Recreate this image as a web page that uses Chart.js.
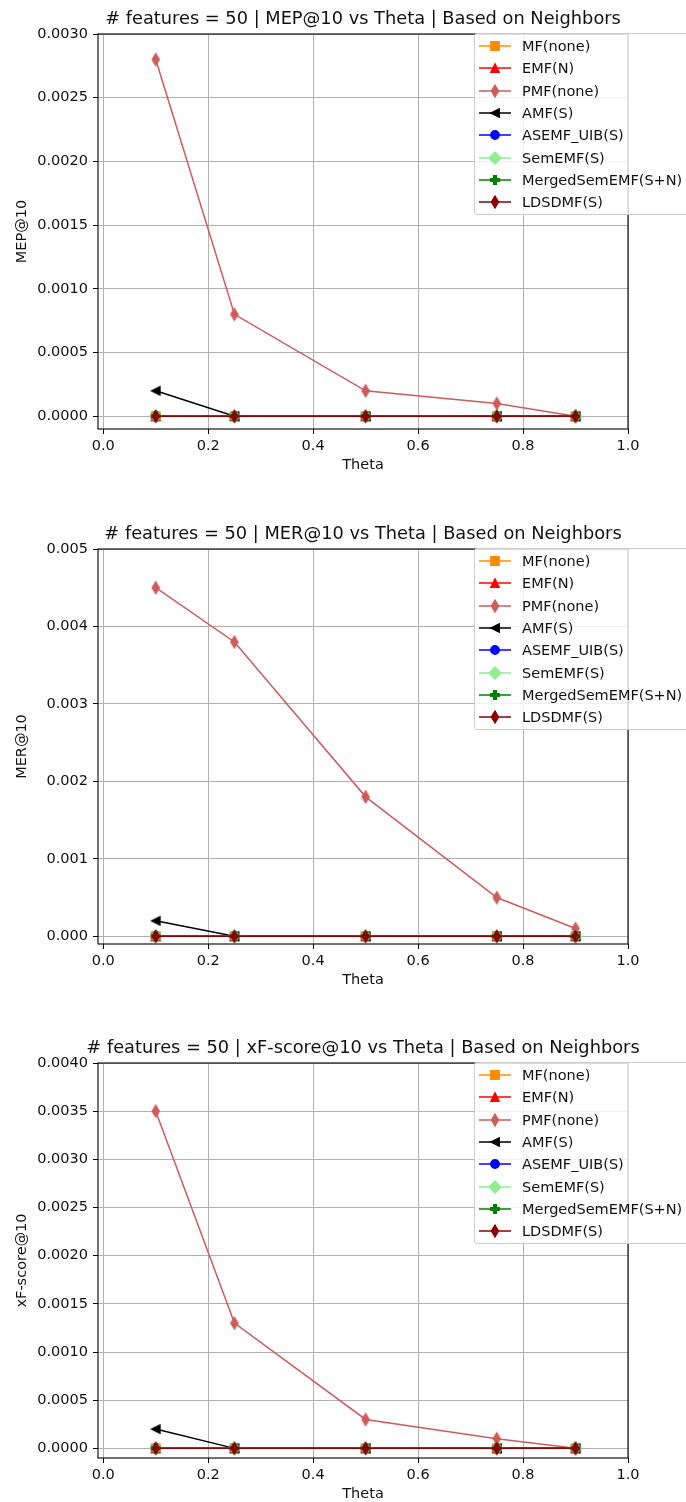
<!DOCTYPE html>
<html>
<head>
<meta charset="utf-8">
<title>Theta sweep - based on neighbors</title>
<script src="https://cdn.jsdelivr.net/npm/chart.js@4.4.1/dist/chart.umd.min.js"></script>
<style>
    body { margin: 0; background: #fff; }
    #page { position: relative; width: 686px; height: 1502px; overflow: hidden; font-family: "DejaVu Sans", sans-serif; }
    canvas.plot { position: absolute; left: 0; }
    .legend { position: absolute; left: 474px; width: 220px; height: 182px; box-sizing: border-box;
              border: 1px solid #cccccc; border-radius: 3px; background: rgba(255, 255, 255, 0.8); }
    .legend-row { position: absolute; left: 0; width: 220px; height: 22px; line-height: 22px;
                  font-size: 14.5px; color: #111; white-space: nowrap; }
    .legend-row canvas { position: absolute; left: 4px; top: 0; }
    .legend-row span { position: absolute; left: 47px; top: 0; }
</style>
</head>
<body>
<div id="page">
    <canvas id="mepChart" class="plot" width="686" height="514" style="top:0px"></canvas>
    <canvas id="merChart" class="plot" width="686" height="514" style="top:515px"></canvas>
    <canvas id="xfChart" class="plot" width="686" height="514" style="top:1029px"></canvas>
</div>
<script>
/////////////////////////////////////Data/////////////////////////////////////

const thetaValues = [0.1, 0.25, 0.5, 0.75, 0.9];
const thetaTicks = [0.0, 0.2, 0.4, 0.6, 0.8, 1.0];

const methodNames = ['MF(none)', 'EMF(N)', 'PMF(none)', 'AMF(S)', 'ASEMF_UIB(S)', 'SemEMF(S)', 'MergedSemEMF(S+N)', 'LDSDMF(S)'];
const methodColors = ['#ff8c00', '#ff0000', '#cd5c5c', '#000000', '#0000ff', '#90ee90', '#008000', '#8b0000'];
const methodMarkers = ['square', 'triangleUp', 'thinDiamond', 'triangleLeft', 'circle', 'diamond', 'plusFilled', 'thinDiamond'];

// MEP@10
const mepMF = [0, 0, 0, 0, 0];
const mepEMF = [0, 0, 0, 0, 0];
const mepPMF = [0.0028, 0.0008, 0.0002, 0.0001, 0.0];
const mepAMF = [0.0002, 0, 0, 0, 0];
const mepASEMF = [0, 0, 0, 0, 0];
const mepSemEMF = [0, 0, 0, 0, 0];
const mepMerged = [0, 0, 0, 0, 0];
const mepLDSDMF = [0, 0, 0, 0, 0];
const mepTicks = [0, 0.0005, 0.001, 0.0015, 0.002, 0.0025, 0.003];

// MER@10
const merMF = [0, 0, 0, 0, 0];
const merEMF = [0, 0, 0, 0, 0];
const merPMF = [0.0045, 0.0038, 0.0018, 0.0005, 0.0001];
const merAMF = [0.0002, 0, 0, 0, 0];
const merASEMF = [0, 0, 0, 0, 0];
const merSemEMF = [0, 0, 0, 0, 0];
const merMerged = [0, 0, 0, 0, 0];
const merLDSDMF = [0, 0, 0, 0, 0];
const merTicks = [0, 0.001, 0.002, 0.003, 0.004, 0.005];

// xF-score@10
const xfMF = [0, 0, 0, 0, 0];
const xfEMF = [0, 0, 0, 0, 0];
const xfPMF = [0.0035, 0.0013, 0.0003, 0.0001, 0.0];
const xfAMF = [0.0002, 0, 0, 0, 0];
const xfASEMF = [0, 0, 0, 0, 0];
const xfSemEMF = [0, 0, 0, 0, 0];
const xfMerged = [0, 0, 0, 0, 0];
const xfLDSDMF = [0, 0, 0, 0, 0];
const xfTicks = [0, 0.0005, 0.001, 0.0015, 0.002, 0.0025, 0.003, 0.0035, 0.004];

const yMin = -0.0001;

/////////////////////////////////////Markers/////////////////////////////////////

const markerSize = 8.5;
const fontFamily = '"DejaVu Sans", sans-serif';
const textColor = '#111';

// Draws one marker shape centred on (x, y)
function drawMarker(ctx, shape, x, y, s, color) {
    const h = s / 2;
    ctx.save();
    ctx.fillStyle = color;
    ctx.strokeStyle = color;
    ctx.lineWidth = 1.3;
    ctx.lineJoin = 'miter';
    ctx.beginPath();
    if (shape === 'square') {
        ctx.rect(x - h, y - h, s, s);
    } else if (shape === 'circle') {
        ctx.arc(x, y, h, 0, Math.PI * 2);
    } else if (shape === 'triangleUp') {
        ctx.moveTo(x, y - h); ctx.lineTo(x - h, y + h); ctx.lineTo(x + h, y + h); ctx.closePath();
    } else if (shape === 'triangleLeft') {
        ctx.moveTo(x - h, y); ctx.lineTo(x + h, y - h); ctx.lineTo(x + h, y + h); ctx.closePath();
    } else if (shape === 'diamond' || shape === 'thinDiamond') {
        const dy = h * Math.SQRT2;
        const dx = shape === 'diamond' ? dy : dy * 0.6;
        ctx.moveTo(x, y - dy); ctx.lineTo(x + dx, y); ctx.lineTo(x, y + dy); ctx.lineTo(x - dx, y); ctx.closePath();
    } else if (shape === 'plusFilled') {
        const t = s / 6;
        ctx.moveTo(x - t, y - h); ctx.lineTo(x + t, y - h); ctx.lineTo(x + t, y - t); ctx.lineTo(x + h, y - t);
        ctx.lineTo(x + h, y + t); ctx.lineTo(x + t, y + t); ctx.lineTo(x + t, y + h); ctx.lineTo(x - t, y + h);
        ctx.lineTo(x - t, y + t); ctx.lineTo(x - h, y + t); ctx.lineTo(x - h, y - t); ctx.lineTo(x - t, y - t);
        ctx.closePath();
    }
    ctx.fill();
    ctx.stroke();
    ctx.restore();
}

// Small canvas used by Chart.js as a point style
function markerImage(shape, color) {
    const c = document.createElement('canvas');
    c.width = 20;
    c.height = 20;
    drawMarker(c.getContext('2d'), shape, 10, 10, markerSize, color);
    return c;
}

const markerImages = methodMarkers.map((m, i) => markerImage(m, methodColors[i]));

/////////////////////////////////////Plugins/////////////////////////////////////

// Axes frame on all four sides plus the title centred over the plot area
function framePlugin(titleText) {
    return {
        id: 'frameTitle',
        afterDatasetsDraw(chart) {
            const {ctx, chartArea: a} = chart;
            ctx.save();
            ctx.strokeStyle = '#000';
            ctx.lineWidth = 1.1;
            ctx.strokeRect(a.left, a.top, a.right - a.left, a.bottom - a.top);
            ctx.restore();
        },
        afterDraw(chart) {
            const {ctx, chartArea: a} = chart;
            ctx.save();
            ctx.font = '17.8px ' + fontFamily;
            ctx.fillStyle = textColor;
            ctx.textAlign = 'center';
            ctx.textBaseline = 'middle';
            ctx.fillText(titleText, (a.left + a.right) / 2, a.top - 15);
            ctx.restore();
        }
    };
}

/////////////////////////////////////Charts/////////////////////////////////////

function buildChart(canvasId, titleText, yLabel, yTicks, yDigits, series) {
    const datasets = methodNames.map((name, i) => ({
        label: name,
        data: thetaValues.map((t, j) => ({x: t, y: series[i][j]})),
        showLine: true,
        borderColor: methodColors[i],
        backgroundColor: methodColors[i],
        borderWidth: 1.5,
        pointStyle: markerImages[i],
        pointRadius: 5,
        pointHoverRadius: 5,
        order: methodNames.length - i // later series sit on top
    }));

    const tickFont = {family: fontFamily, size: 14.5};

    return new Chart(document.getElementById(canvasId), {
        type: 'scatter',
        data: {datasets: datasets},
        options: {
            responsive: false,
            animation: false,
            devicePixelRatio: 1,
            layout: {padding: {top: 34, right: 58, left: 0, bottom: 35}},
            plugins: {legend: {display: false}, tooltip: {enabled: false}},
            scales: {
                x: {
                    type: 'linear',
                    min: -0.01,
                    max: 1.0,
                    afterBuildTicks: s => { s.ticks = thetaTicks.map(v => ({value: v})); },
                    afterFit: s => { s.height = 50; },
                    ticks: {callback: v => v.toFixed(1), padding: 4, color: textColor, font: tickFont, maxRotation: 0},
                    grid: {color: '#b0b0b0', lineWidth: 1, tickColor: '#000', tickLength: 5},
                    border: {display: false},
                    title: {display: true, text: 'Theta', color: textColor, font: tickFont, padding: {top: 0, bottom: 5}}
                },
                y: {
                    type: 'linear',
                    min: yMin,
                    max: yTicks[yTicks.length - 1],
                    afterBuildTicks: s => { s.ticks = yTicks.map(v => ({value: v})); },
                    afterFit: s => { s.width = 98; },
                    ticks: {callback: v => v.toFixed(yDigits), padding: 5, color: textColor, font: tickFont},
                    grid: {color: '#b0b0b0', lineWidth: 1, tickColor: '#000', tickLength: 5},
                    border: {display: false},
                    title: {display: true, text: yLabel, color: textColor, font: tickFont, padding: {top: 14, bottom: 0}}
                }
            }
        },
        plugins: [framePlugin(titleText)]
    });
}

// HTML legend placed over the upper right corner of a panel
function buildLegend(top) {
    const box = document.createElement('div');
    box.className = 'legend';
    box.style.top = top + 'px';
    methodNames.forEach((name, i) => {
        const row = document.createElement('div');
        row.className = 'legend-row';
        row.style.top = (1 + i * 22.3) + 'px';
        const handle = document.createElement('canvas');
        handle.width = 32;
        handle.height = 22;
        const hctx = handle.getContext('2d');
        hctx.strokeStyle = methodColors[i];
        hctx.lineWidth = 1.5;
        hctx.beginPath();
        hctx.moveTo(0, 11);
        hctx.lineTo(32, 11);
        hctx.stroke();
        drawMarker(hctx, methodMarkers[i], 16, 11, markerSize, methodColors[i]);
        const label = document.createElement('span');
        label.textContent = name;
        row.appendChild(handle);
        row.appendChild(label);
        box.appendChild(row);
    });
    document.getElementById('page').appendChild(box);
}

buildChart('mepChart', '# features = 50 | MEP@10 vs Theta | Based on Neighbors', 'MEP@10', mepTicks, 4,
    [mepMF, mepEMF, mepPMF, mepAMF, mepASEMF, mepSemEMF, mepMerged, mepLDSDMF]);
buildChart('merChart', '# features = 50 | MER@10 vs Theta | Based on Neighbors', 'MER@10', merTicks, 3,
    [merMF, merEMF, merPMF, merAMF, merASEMF, merSemEMF, merMerged, merLDSDMF]);
buildChart('xfChart', '# features = 50 | xF-score@10 vs Theta | Based on Neighbors', 'xF-score@10', xfTicks, 4,
    [xfMF, xfEMF, xfPMF, xfAMF, xfASEMF, xfSemEMF, xfMerged, xfLDSDMF]);

buildLegend(33);
buildLegend(548);
buildLegend(1062);
</script>
</body>
</html>
